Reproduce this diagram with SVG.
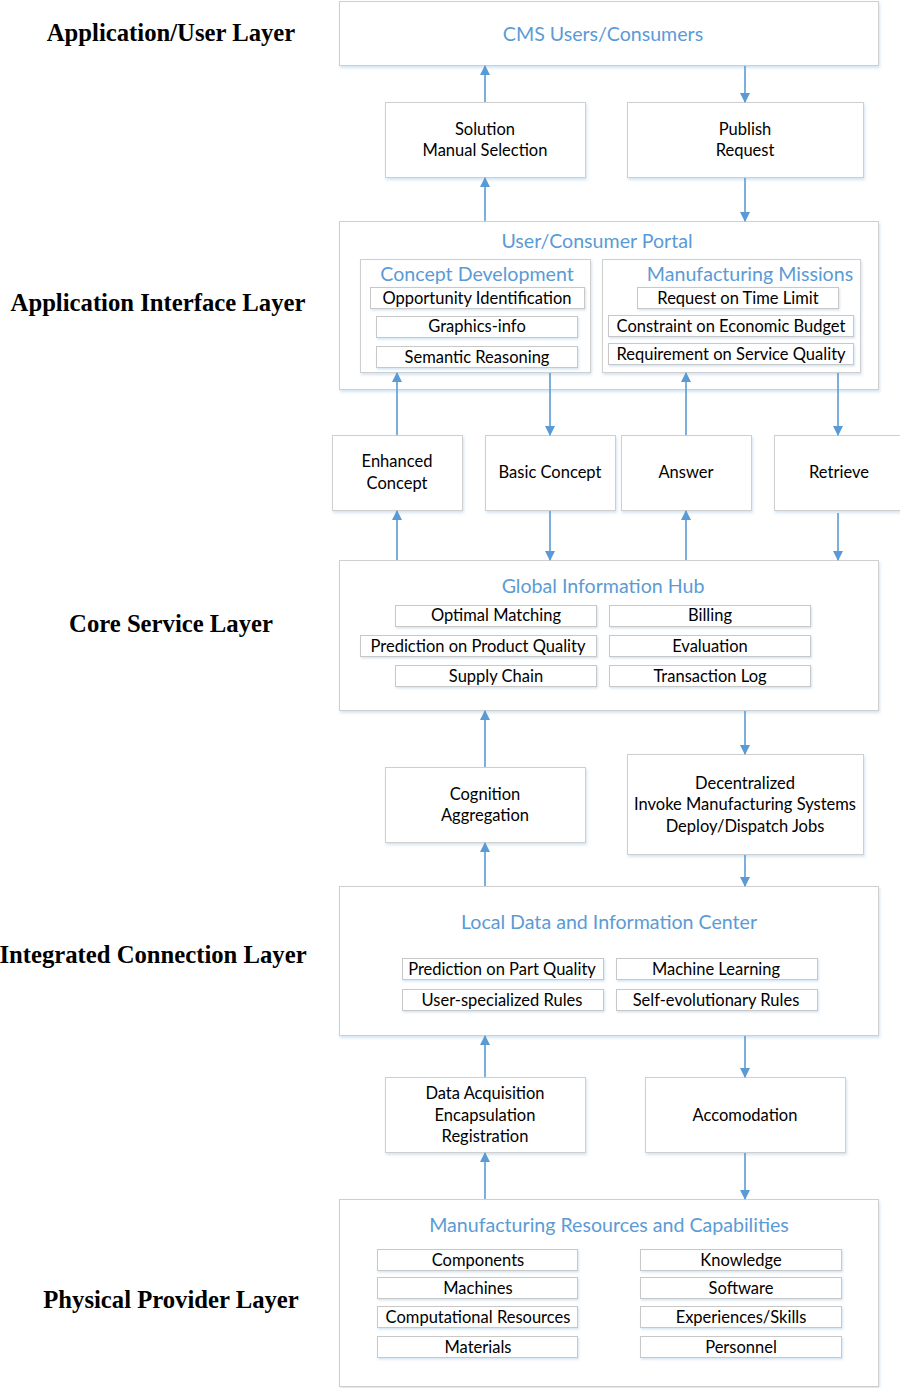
<svg xmlns="http://www.w3.org/2000/svg" width="900" height="1388" viewBox="0 0 900 1388">
<style>
.box{fill:#fff;stroke:#cfcfcf;stroke-width:1;filter:url(#sh)}
.item{fill:#fff;stroke:#c8c8c8;stroke-width:1;filter:url(#sh2)}
.t{font-family:Lato,"Open Sans","Liberation Sans",sans-serif;font-size:16.5px;fill:#000;text-anchor:middle;dominant-baseline:central}
.ti{font-family:Lato,"Open Sans","Liberation Sans",sans-serif;font-size:19.6px;fill:#5b9bd5;text-anchor:middle;dominant-baseline:central}
.layer{font-family:"Liberation Serif","Times New Roman",serif;font-weight:bold;font-size:24.7px;fill:#000;text-anchor:middle;dominant-baseline:central}
.c{stroke:#5b9bd5;stroke-width:1.6;fill:none;marker-end:url(#ah)}
</style>
<defs>
<filter id="sh" x="-5%" y="-10%" width="110%" height="130%">
<feDropShadow dx="1" dy="2" stdDeviation="1.5" flood-color="#9dc3e6" flood-opacity="0.45"/>
</filter>
<filter id="sh2" x="-5%" y="-20%" width="110%" height="160%">
<feDropShadow dx="1" dy="1.5" stdDeviation="1" flood-color="#9dc3e6" flood-opacity="0.45"/>
</filter>
<marker id="ah" markerWidth="10" markerHeight="10" refX="9" refY="5" orient="auto" markerUnits="userSpaceOnUse">
<path d="M0,0 L10,5 L0,10 Z" fill="#5b9bd5"/>
</marker>
</defs>
<rect width="900" height="1388" fill="#fff"/>

<g id="layers">
<text class="layer" x="171" y="32">Application/User Layer</text>
<text class="layer" x="158" y="302">Application Interface Layer</text>
<text class="layer" x="171" y="623">Core Service Layer</text>
<text class="layer" x="153" y="954">Integrated Connection Layer</text>
<text class="layer" x="171" y="1299">Physical Provider Layer</text>
</g>

<g id="cms">
<rect class="box" x="339.5" y="1.5" width="539" height="64"/>
<text class="ti" x="603" y="33">CMS Users/Consumers</text>
</g>

<g id="solution">
<rect class="box" x="385.5" y="102.5" width="200" height="75"/>
<text class="t" x="485" y="129">Solution</text>
<text class="t" x="485" y="150">Manual Selection</text>
</g>

<g id="publish">
<rect class="box" x="627.5" y="102.5" width="236" height="75"/>
<text class="t" x="745" y="129">Publish</text>
<text class="t" x="745" y="150">Request</text>
</g>

<g id="portal">
<rect class="box" x="339.5" y="221.5" width="539" height="168"/>
<text class="ti" x="597" y="240">User/Consumer Portal</text>
<g id="concept-dev">
<rect class="box" x="360.5" y="259.5" width="230" height="113"/>
<text class="ti" x="477" y="273">Concept Development</text>
<rect class="item" x="370.5" y="287.5" width="214" height="21"/>
<text class="t" x="477" y="298">Opportunity Identification</text>
<rect class="item" x="376.5" y="316.5" width="201" height="21"/>
<text class="t" x="477" y="326">Graphics-info</text>
<rect class="item" x="376.5" y="346.5" width="201" height="21"/>
<text class="t" x="477" y="357">Semantic Reasoning</text>
</g>
<g id="missions">
<rect class="box" x="602.5" y="259.5" width="258" height="113"/>
<text class="ti" x="750" y="273">Manufacturing Missions</text>
<rect class="item" x="637.5" y="287.5" width="201" height="21"/>
<text class="t" x="738" y="298">Request on Time Limit</text>
<rect class="item" x="608.5" y="315.5" width="245" height="21"/>
<text class="t" x="731" y="326">Constraint on Economic Budget</text>
<rect class="item" x="608.5" y="343.5" width="245" height="21"/>
<text class="t" x="731" y="354">Requirement on Service Quality</text>
</g>
</g>

<g id="enhanced">
<rect class="box" x="332.5" y="435.5" width="130" height="75"/>
<text class="t" x="397" y="461">Enhanced</text>
<text class="t" x="397" y="483">Concept</text>
</g>
<g id="basic">
<rect class="box" x="485.5" y="435.5" width="130" height="75"/>
<text class="t" x="550" y="472">Basic Concept</text>
</g>
<g id="answer">
<rect class="box" x="621.5" y="435.5" width="130" height="75"/>
<text class="t" x="686" y="472">Answer</text>
</g>
<g id="retrieve">
<rect class="box" x="774.5" y="435.5" width="130" height="75"/>
<text class="t" x="839" y="472">Retrieve</text>
</g>

<g id="hub">
<rect class="box" x="339.5" y="560.5" width="539" height="150"/>
<text class="ti" x="603" y="585">Global Information Hub</text>
<rect class="item" x="395.5" y="605.5" width="201" height="21"/>
<text class="t" x="496" y="615">Optimal Matching</text>
<rect class="item" x="360.5" y="635.5" width="236" height="21"/>
<text class="t" x="478" y="646">Prediction on Product Quality</text>
<rect class="item" x="395.5" y="665.5" width="201" height="21"/>
<text class="t" x="496" y="676">Supply Chain</text>
<rect class="item" x="609.5" y="605.5" width="201" height="21"/>
<text class="t" x="710" y="615">Billing</text>
<rect class="item" x="609.5" y="635.5" width="201" height="21"/>
<text class="t" x="710" y="646">Evaluation</text>
<rect class="item" x="609.5" y="665.5" width="201" height="21"/>
<text class="t" x="710" y="676">Transaction Log</text>
</g>

<g id="cognition">
<rect class="box" x="385.5" y="767.5" width="200" height="75"/>
<text class="t" x="485" y="794">Cognition</text>
<text class="t" x="485" y="815">Aggregation</text>
</g>
<g id="decentralized">
<rect class="box" x="627.5" y="754.5" width="236" height="100"/>
<text class="t" x="745" y="783">Decentralized</text>
<text class="t" x="745" y="804">Invoke Manufacturing Systems</text>
<text class="t" x="745" y="826">Deploy/Dispatch Jobs</text>
</g>

<g id="local">
<rect class="box" x="339.5" y="886.5" width="539" height="149"/>
<text class="ti" x="609" y="921">Local Data and Information Center</text>
<rect class="item" x="402.5" y="958.5" width="201" height="21"/>
<text class="t" x="502" y="969">Prediction on Part Quality</text>
<rect class="item" x="616.5" y="958.5" width="201" height="21"/>
<text class="t" x="716" y="969">Machine Learning</text>
<rect class="item" x="402.5" y="989.5" width="201" height="21"/>
<text class="t" x="502" y="1000">User-specialized Rules</text>
<rect class="item" x="616.5" y="989.5" width="201" height="21"/>
<text class="t" x="716" y="1000">Self-evolutionary Rules</text>
</g>

<g id="acquisition">
<rect class="box" x="385.5" y="1077.5" width="200" height="75"/>
<text class="t" x="485" y="1093">Data Acquisition</text>
<text class="t" x="485" y="1115">Encapsulation</text>
<text class="t" x="485" y="1136">Registration</text>
</g>
<g id="accomodation">
<rect class="box" x="645.5" y="1077.5" width="200" height="75"/>
<text class="t" x="745" y="1115">Accomodation</text>
</g>

<g id="resources">
<rect class="box" x="339.5" y="1199.5" width="539" height="187"/>
<text class="ti" x="609" y="1224">Manufacturing Resources and Capabilities</text>
<rect class="item" x="377.5" y="1249.5" width="200" height="21"/>
<text class="t" x="478" y="1260">Components</text>
<rect class="item" x="377.5" y="1277.5" width="200" height="21"/>
<text class="t" x="478" y="1288">Machines</text>
<rect class="item" x="377.5" y="1306.5" width="200" height="21"/>
<text class="t" x="478" y="1317">Computational Resources</text>
<rect class="item" x="377.5" y="1336.5" width="200" height="21"/>
<text class="t" x="478" y="1347">Materials</text>
<rect class="item" x="640.5" y="1249.5" width="201" height="21"/>
<text class="t" x="741" y="1260">Knowledge</text>
<rect class="item" x="640.5" y="1277.5" width="201" height="21"/>
<text class="t" x="741" y="1288">Software</text>
<rect class="item" x="640.5" y="1306.5" width="201" height="21"/>
<text class="t" x="741" y="1317">Experiences/Skills</text>
<rect class="item" x="640.5" y="1336.5" width="201" height="21"/>
<text class="t" x="741" y="1347">Personnel</text>
</g>

<g id="connectors">
<line class="c" x1="485" y1="102" x2="485" y2="66"/>
<line class="c" x1="745" y1="66" x2="745" y2="102"/>
<line class="c" x1="485" y1="221" x2="485" y2="178"/>
<line class="c" x1="745" y1="178" x2="745" y2="221"/>
<line class="c" x1="397" y1="435" x2="397" y2="373"/>
<line class="c" x1="550" y1="373" x2="550" y2="435"/>
<line class="c" x1="686" y1="435" x2="686" y2="373"/>
<line class="c" x1="838" y1="373" x2="838" y2="435"/>
<line class="c" x1="397" y1="560" x2="397" y2="511"/>
<line class="c" x1="550" y1="511" x2="550" y2="560"/>
<line class="c" x1="686" y1="560" x2="686" y2="511"/>
<line class="c" x1="838" y1="513" x2="838" y2="560"/>
<line class="c" x1="485" y1="767" x2="485" y2="711"/>
<line class="c" x1="745" y1="711" x2="745" y2="754"/>
<line class="c" x1="485" y1="886" x2="485" y2="843"/>
<line class="c" x1="745" y1="855" x2="745" y2="886"/>
<line class="c" x1="485" y1="1077" x2="485" y2="1036"/>
<line class="c" x1="745" y1="1036" x2="745" y2="1077"/>
<line class="c" x1="485" y1="1199" x2="485" y2="1153"/>
<line class="c" x1="745" y1="1153" x2="745" y2="1199"/>
</g>
</svg>
